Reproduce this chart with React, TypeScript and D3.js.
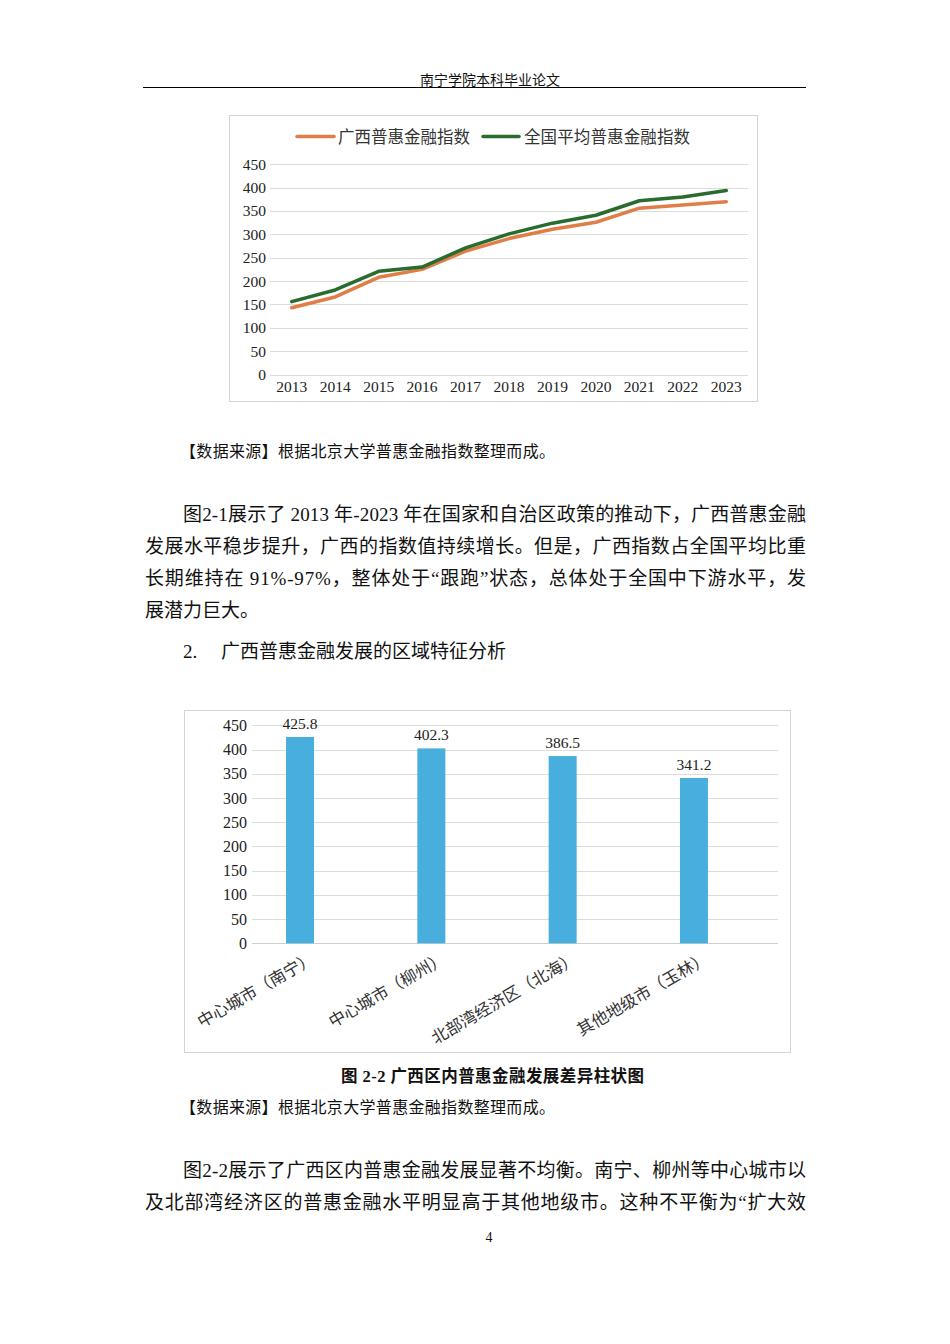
import React from "react";
import * as d3 from "d3";

const years = ["2013","2014","2015","2016","2017","2018","2019","2020","2021","2022","2023"];
const guangxiIndex = [143, 166, 208, 225, 264, 291, 311, 326, 356, 363, 370];
const nationalIndex = [156, 181, 221, 230, 271, 301, 324, 341, 372, 380, 394];
const lineTicks = [0, 50, 100, 150, 200, 250, 300, 350, 400, 450];
const seriesNames = ["广西普惠金融指数", "全国平均普惠金融指数"];

const regions = ["中心城市（南宁）", "中心城市（柳州）", "北部湾经济区（北海）", "其他地级市（玉林）"];
const regionValues = [425.8, 402.3, 386.5, 341.2];
const barTicks = [0, 50, 100, 150, 200, 250, 300, 350, 400, 450];

const ORANGE = "#DF7E47";
const GREEN = "#2A6B2E";
const BLUE = "#48AEDD";
const GRID = "#DCDCDC";
const FONT = "'Liberation Serif', 'Noto Sans CJK SC', serif";

function LineChart() {
  const x = d3.scaleBand<string>().domain(years).range([270, 748]);
  const y = d3.scaleLinear().domain([0, 450]).range([374.5, 164.3]);
  const cx = (d: string) => (x(d) as number) + x.bandwidth() / 2;
  const line = (vals: number[]) =>
    d3.line<number>().x((_, i) => cx(years[i])).y((v) => y(v))(vals) as string;
  return (
    <g fontFamily={FONT}>
      <rect x={229.5} y={115.5} width={528} height={286} fill="#fff" stroke="#D4D4D4" />
      {lineTicks.map((t) => (
        <g key={t}>
          <line x1={270} x2={748} y1={Math.round(y(t)) + 0.5} y2={Math.round(y(t)) + 0.5} stroke={GRID} />
          <text x={266} y={y(t)} dy="0.35em" textAnchor="end" fontSize={15.5} fill="#222">{t}</text>
        </g>
      ))}
      {years.map((yr) => (
        <text key={yr} x={cx(yr)} y={392} textAnchor="middle" fontSize={15.5} fill="#222">{yr}</text>
      ))}
      <path d={line(guangxiIndex)} fill="none" stroke={ORANGE} strokeWidth={3.5} strokeLinejoin="round" strokeLinecap="round" />
      <path d={line(nationalIndex)} fill="none" stroke={GREEN} strokeWidth={3.5} strokeLinejoin="round" strokeLinecap="round" />
      <line x1={297} x2={334} y1={136.5} y2={136.5} stroke={ORANGE} strokeWidth={3.5} strokeLinecap="round" />
      <text x={338} y={143} fontSize={16.5} fill="#333" textLength={132} lengthAdjust="spacing">{seriesNames[0]}</text>
      <line x1={483} x2={519} y1={136.5} y2={136.5} stroke={GREEN} strokeWidth={3.5} strokeLinecap="round" />
      <text x={524} y={143} fontSize={16.5} fill="#333" textLength={166} lengthAdjust="spacing">{seriesNames[1]}</text>
    </g>
  );
}

function BarChart() {
  const x = d3.scaleBand<string>().domain(regions).range([234.4, 759.6]).paddingInner(0).paddingOuter(0);
  const y = d3.scaleLinear().domain([0, 450]).range([943.3, 725.3]);
  const bw = 28;
  const cx = (d: string) => (x(d) as number) + x.bandwidth() / 2;
  return (
    <g fontFamily={FONT}>
      <rect x={184.5} y={710.5} width={606} height={342} fill="#fff" stroke="#D4D4D4" />
      {barTicks.map((t) => (
        <g key={t}>
          <line x1={252} x2={778} y1={Math.round(y(t)) + 0.5} y2={Math.round(y(t)) + 0.5} stroke={t === 0 ? "#CFCFCF" : GRID} />
          <text x={247} y={y(t)} dy="0.35em" textAnchor="end" fontSize={16} fill="#222">{t}</text>
        </g>
      ))}
      {regions.map((r, i) => (
        <g key={r}>
          <rect x={cx(r) - bw / 2} y={y(regionValues[i])} width={bw} height={y(0) - y(regionValues[i])} fill={BLUE} />
          <text x={cx(r)} y={y(regionValues[i]) - 8} textAnchor="middle" fontSize={15.5} fill="#222">
            {regionValues[i].toFixed(1)}
          </text>
          <text
            transform={`translate(${cx(r) + 16},${962}) rotate(-30)`}
            textAnchor="end"
            fontSize={16.5}
            fill="#333"
          >
            {r}
          </text>
        </g>
      ))}
    </g>
  );
}

const para1 = [
  { t: "图2-1展示了 2013 年-2023 年在国家和自治区政策的推动下，广西普惠金融", x: 183, y: 521, w: 623 },
  { t: "发展水平稳步提升，广西的指数值持续增长。但是，广西指数占全国平均比重", x: 145, y: 553, w: 661 },
  { t: "长期维持在 91%-97%，整体处于“跟跑”状态，总体处于全国中下游水平，发", x: 145, y: 585, w: 661 },
  { t: "展潜力巨大。", x: 145, y: 617, w: 0 },
];
const para2 = [
  { t: "图2-2展示了广西区内普惠金融发展显著不均衡。南宁、柳州等中心城市以", x: 183, y: 1177, w: 623 },
  { t: "及北部湾经济区的普惠金融水平明显高于其他地级市。这种不平衡为“扩大效", x: 145, y: 1209, w: 661 },
];

export default function App() {
  const lines = [...para1, ...para2];
  return (
    <svg
      width={950}
      height={1344}
      viewBox="0 0 950 1344"
      style={{ position: "absolute", left: 0, top: 0, background: "#fff" }}
    >
      <rect width={950} height={1344} fill="#fff" />
      <g fontFamily={FONT} fill="#111">
        <text x={490} y={85} textAnchor="middle" fontSize={14}>南宁学院本科毕业论文</text>
        <line x1={143} x2={806} y1={87.5} y2={87.5} stroke="#000" strokeWidth={1} />
        <text x={180} y={457} fontSize={16} textLength={375} lengthAdjust="spacing">【数据来源】根据北京大学普惠金融指数整理而成。</text>
        {lines.map((l, i) =>
          l.w > 0 ? (
            <text key={i} x={l.x} y={l.y} fontSize={19} textLength={l.w} lengthAdjust="spacing">{l.t}</text>
          ) : (
            <text key={i} x={l.x} y={l.y} fontSize={19}>{l.t}</text>
          )
        )}
        <text x={183} y={658} fontSize={19}>2.</text>
        <text x={221} y={658} fontSize={19}>广西普惠金融发展的区域特征分析</text>
        <text x={341} y={1082} fontSize={16.5} fontWeight="bold" textLength={303} lengthAdjust="spacing">图 2-2 广西区内普惠金融发展差异柱状图</text>
        <text x={180} y={1113} fontSize={16} textLength={375} lengthAdjust="spacing">【数据来源】根据北京大学普惠金融指数整理而成。</text>
        <text x={489} y={1242} textAnchor="middle" fontSize={14}>4</text>
      </g>
      <LineChart />
      <BarChart />
    </svg>
  );
}
